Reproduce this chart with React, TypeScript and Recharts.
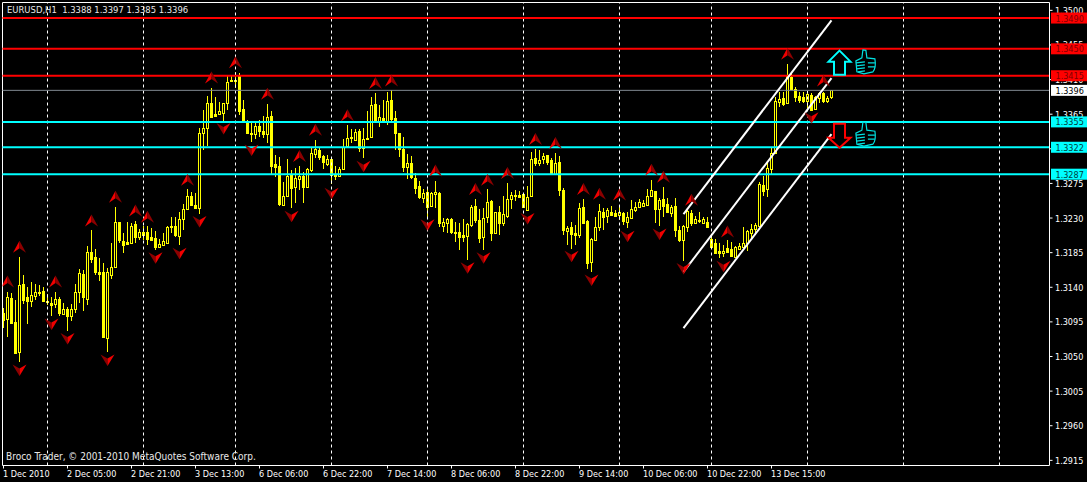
import React from "react";
import { ComposedChart, Bar, Scatter, XAxis, YAxis, ReferenceLine } from "recharts";

const opens = [
  1.3107,1.3099,1.3126,1.3095,1.3056,1.3144,1.3127,1.3122,1.3129,1.3133,
  1.3135,1.3122,1.3120,1.3118,1.3125,1.3105,1.3112,1.3103,1.3112,1.3134,
  1.3157,1.3125,1.3186,1.3179,1.3160,1.3160,1.3074,1.3156,1.3166,1.3225,
  1.3200,1.3199,1.3198,1.3222,1.3205,1.3212,1.3212,1.3205,1.3204,1.3192,
  1.3195,1.3198,1.3218,1.3220,1.3207,1.3229,1.3242,1.3259,1.3247,1.3243,
  1.3341,1.3347,1.3380,1.3365,1.3365,1.3367,1.3380,1.3408,1.3408,1.3415,
  1.3372,1.3356,1.3341,1.3339,1.3350,1.3343,1.3339,1.3363,1.3300,1.3298,
  1.3247,1.3259,1.3286,1.3270,1.3281,1.3285,1.3270,1.3292,1.3313,1.3318,
  1.3311,1.3300,1.3307,1.3286,1.3285,1.3294,1.3324,1.3334,1.3331,1.3343,
  1.3321,1.3333,1.3335,1.3378,1.3355,1.3360,1.3356,1.3383,1.3360,1.3341,
  1.3320,1.3296,1.3302,1.3282,1.3272,1.3256,1.3264,1.3246,1.3261,1.3263,
  1.3220,1.3224,1.3229,1.3212,1.3212,1.3208,1.3207,1.3221,1.3246,1.3227,
  1.3205,1.3231,1.3252,1.3211,1.3238,1.3224,1.3233,1.3255,1.3259,1.3260,
  1.3261,1.3240,1.3259,1.3308,1.3302,1.3307,1.3312,1.3305,1.3287,1.3303,
  1.3266,1.3213,1.3218,1.3211,1.3208,1.3244,1.3226,1.3173,1.3201,1.3218,
  1.3238,1.3233,1.3238,1.3237,1.3234,1.3237,1.3225,1.3230,1.3240,1.3244,
  1.3246,1.3247,1.3259,1.3265,1.3242,1.3255,1.3248,1.3237,1.3246,1.3214,
  1.3201,1.3218,1.3237,1.3224,1.3226,1.3224,1.3225,1.3203,1.3198,1.3187,
  1.3185,1.3191,1.3190,1.3179,1.3190,1.3192,1.3198,1.3211,1.3216,1.3220,
  1.3273,1.3268,1.3294,1.3315,1.3381,1.3386,1.3380,1.3413,1.3398,1.3389,
  1.3387,1.3382,1.3390,1.3372,1.3386,1.3393,1.3382,1.3388,
];
const highs = [
  1.3113,1.3134,1.3133,1.3123,1.3179,1.3156,1.3140,1.3147,1.3144,1.3143,
  1.3140,1.3131,1.3127,1.3134,1.3127,1.3120,1.3114,1.3118,1.3144,1.3164,
  1.3162,1.3194,1.3214,1.3190,1.3178,1.3172,1.3165,1.3198,1.3244,1.3225,
  1.3211,1.3225,1.3224,1.3226,1.3216,1.3220,1.3220,1.3217,1.3213,1.3203,
  1.3211,1.3220,1.3231,1.3231,1.3238,1.3248,1.3268,1.3264,1.3263,1.3347,
  1.3370,1.3389,1.3399,1.3387,1.3381,1.3380,1.3415,1.3416,1.3420,1.3419,
  1.3383,1.3357,1.3354,1.3354,1.3357,1.3363,1.3378,1.3369,1.3312,1.3309,
  1.3277,1.3307,1.3292,1.3295,1.3298,1.3290,1.3295,1.3321,1.3331,1.3322,
  1.3312,1.3312,1.3308,1.3298,1.3296,1.3333,1.3351,1.3346,1.3346,1.3346,
  1.3347,1.3369,1.3387,1.3393,1.3377,1.3383,1.3394,1.3396,1.3369,1.3341,
  1.3335,1.3313,1.3311,1.3289,1.3278,1.3268,1.3269,1.3264,1.3278,1.3264,
  1.3230,1.3230,1.3230,1.3225,1.3224,1.3229,1.3224,1.3247,1.3255,1.3242,
  1.3243,1.3268,1.3253,1.3238,1.3246,1.3259,1.3276,1.3264,1.3266,1.3265,
  1.3263,1.3272,1.3316,1.3320,1.3318,1.3315,1.3312,1.3308,1.3315,1.3311,
  1.3269,1.3220,1.3225,1.3221,1.3250,1.3255,1.3227,1.3204,1.3231,1.3248,
  1.3243,1.3243,1.3246,1.3240,1.3247,1.3238,1.3238,1.3253,1.3251,1.3255,
  1.3253,1.3268,1.3279,1.3265,1.3256,1.3270,1.3256,1.3247,1.3256,1.3220,
  1.3221,1.3242,1.3240,1.3233,1.3238,1.3231,1.3231,1.3207,1.3203,1.3198,
  1.3195,1.3201,1.3199,1.3194,1.3198,1.3218,1.3214,1.3222,1.3224,1.3277,
  1.3285,1.3302,1.3321,1.3387,1.3394,1.3394,1.3430,1.3419,1.3400,1.3394,
  1.3394,1.3392,1.3393,1.3389,1.3394,1.3394,1.3389,1.3397,
];
const lows = [
  1.3087,1.3075,1.3092,1.3055,1.3043,1.3118,1.3092,1.3114,1.3123,1.3129,
  1.3122,1.3117,1.3103,1.3113,1.3103,1.3105,1.3083,1.3096,1.3107,1.3120,
  1.3109,1.3117,1.3172,1.3156,1.3148,1.3075,1.3056,1.3151,1.3166,1.3198,
  1.3185,1.3195,1.3198,1.3198,1.3201,1.3201,1.3195,1.3200,1.3188,1.3191,
  1.3194,1.3198,1.3211,1.3205,1.3195,1.3214,1.3240,1.3246,1.3242,1.3235,
  1.3318,1.3324,1.3361,1.3361,1.3365,1.3356,1.3370,1.3408,1.3399,1.3364,
  1.3354,1.3341,1.3329,1.3333,1.3335,1.3334,1.3328,1.3286,1.3283,1.3246,
  1.3246,1.3257,1.3243,1.3250,1.3266,1.3250,1.3269,1.3290,1.3308,1.3305,
  1.3294,1.3298,1.3274,1.3279,1.3283,1.3292,1.3322,1.3328,1.3330,1.3316,
  1.3308,1.3331,1.3334,1.3354,1.3348,1.3355,1.3351,1.3356,1.3318,1.3309,
  1.3290,1.3281,1.3281,1.3261,1.3255,1.3250,1.3231,1.3244,1.3243,1.3218,
  1.3212,1.3211,1.3209,1.3199,1.3188,1.3199,1.3175,1.3218,1.3224,1.3198,
  1.3188,1.3224,1.3200,1.3209,1.3208,1.3220,1.3230,1.3242,1.3252,1.3256,
  1.3243,1.3239,1.3257,1.3298,1.3298,1.3300,1.3299,1.3287,1.3287,1.3259,
  1.3208,1.3195,1.3190,1.3195,1.3204,1.3222,1.3164,1.3160,1.3200,1.3213,
  1.3214,1.3224,1.3234,1.3231,1.3227,1.3221,1.3217,1.3230,1.3238,1.3244,
  1.3244,1.3246,1.3259,1.3224,1.3220,1.3231,1.3237,1.3231,1.3205,1.3199,
  1.3174,1.3212,1.3220,1.3222,1.3224,1.3222,1.3217,1.3192,1.3185,1.3178,
  1.3179,1.3185,1.3179,1.3179,1.3188,1.3192,1.3187,1.3204,1.3208,1.3218,
  1.3259,1.3257,1.3287,1.3313,1.3374,1.3376,1.3380,1.3396,1.3381,1.3380,
  1.3380,1.3373,1.3369,1.3372,1.3380,1.3380,1.3380,1.3385,
];
const closes = [
  1.3097,1.3127,1.3094,1.3055,1.3143,1.3123,1.3122,1.3130,1.3134,1.3134,
  1.3122,1.3121,1.3117,1.3125,1.3107,1.3112,1.3103,1.3112,1.3134,1.3159,
  1.3127,1.3186,1.3177,1.3160,1.3157,1.3075,1.3160,1.3166,1.3225,1.3201,
  1.3195,1.3196,1.3220,1.3205,1.3212,1.3208,1.3203,1.3201,1.3192,1.3196,
  1.3200,1.3218,1.3220,1.3208,1.3229,1.3242,1.3259,1.3247,1.3243,1.3341,
  1.3347,1.3380,1.3361,1.3363,1.3369,1.3380,1.3407,1.3409,1.3409,1.3369,
  1.3356,1.3341,1.3339,1.3350,1.3343,1.3339,1.3361,1.3298,1.3296,1.3248,
  1.3259,1.3285,1.3269,1.3282,1.3285,1.3270,1.3294,1.3315,1.3320,1.3309,
  1.3303,1.3307,1.3286,1.3285,1.3294,1.3322,1.3334,1.3335,1.3342,1.3321,
  1.3333,1.3334,1.3377,1.3356,1.3361,1.3356,1.3382,1.3359,1.3341,1.3320,
  1.3296,1.3302,1.3283,1.3269,1.3257,1.3263,1.3244,1.3263,1.3264,1.3224,
  1.3225,1.3229,1.3212,1.3211,1.3205,1.3205,1.3222,1.3244,1.3227,1.3204,
  1.3230,1.3251,1.3211,1.3238,1.3224,1.3235,1.3255,1.3260,1.3260,1.3257,
  1.3244,1.3257,1.3307,1.3302,1.3305,1.3311,1.3303,1.3287,1.3302,1.3266,
  1.3214,1.3217,1.3209,1.3208,1.3243,1.3224,1.3172,1.3203,1.3218,1.3239,
  1.3231,1.3240,1.3234,1.3233,1.3238,1.3226,1.3231,1.3242,1.3244,1.3251,
  1.3250,1.3259,1.3266,1.3242,1.3253,1.3246,1.3238,1.3244,1.3214,1.3201,
  1.3220,1.3239,1.3224,1.3229,1.3227,1.3229,1.3218,1.3192,1.3185,1.3185,
  1.3187,1.3186,1.3181,1.3192,1.3194,1.3198,1.3213,1.3216,1.3221,1.3274,
  1.3265,1.3295,1.3315,1.3382,1.3385,1.3378,1.3415,1.3398,1.3387,1.3383,
  1.3382,1.3391,1.3370,1.3387,1.3393,1.3382,1.3386,1.3396,
];

const upFractalBars = [1,4,13,22,28,33,36,46,52,58,66,74,78,86,93,97,108,118,121,126,133,138,145,149,154,162,165,172,181,196,205];
const upFractalPrices = [1.3147,1.3192,1.3147,1.3226,1.3257,1.3239,1.3231,1.3279,1.3412,1.3432,1.3391,1.3310,1.3344,1.3363,1.3405,1.3408,1.3291,1.3267,1.3279,1.3288,1.3332,1.3327,1.3267,1.3261,1.3260,1.3292,1.3283,1.3253,1.3212,1.3443,1.3408];
const downFractalBars = [4,12,16,26,38,44,49,55,62,72,82,90,106,116,120,131,142,147,156,164,170,180,202];
const downFractalPrices = [1.3033,1.3093,1.3074,1.3046,1.3179,1.3185,1.3226,1.3347,1.3319,1.3233,1.3263,1.3298,1.3222,1.3166,1.3179,1.3230,1.3181,1.3150,1.3207,1.3210,1.3165,1.3168,1.3361];

const resistanceLevels = [1.3490, 1.3450, 1.3415];
const supportLevels = [1.3355, 1.3322, 1.3287];
const lastPrice = 1.3396;
const channelBars = [170, 207];
const channelUpper = [1.3235, 1.3487];
const channelMiddle = [1.3160, 1.3412];
const channelLower = [1.3087, 1.3339];
const daySeparatorBars = [11,35,58,82,106,130,154,177,201,225,249];
const priceTicks = [1.35,1.3455,1.341,1.3365,1.332,1.3275,1.323,1.3185,1.314,1.3095,1.305,1.3005,1.296,1.2915];
const timeTickBars = [0,16,32,48,64,80,96,112,128,144,160,176,192];
const timeTickLabels = ["1 Dec 2010","2 Dec 05:00","2 Dec 21:00","3 Dec 13:00","6 Dec 06:00","6 Dec 22:00","7 Dec 14:00","8 Dec 06:00","8 Dec 22:00","9 Dec 14:00","10 Dec 06:00","10 Dec 22:00","13 Dec 15:00"];
const titleText = "EURUSD,H1  1.3388 1.3397 1.3385 1.3396";
const footerText = "Broco Trader, © 2001-2010 MetaQuotes Software Corp.";
const buySignal = [{ i: 209, price: 1.3432 }];
const sellSignal = [{ i: 209, price: 1.3337 }];
const thumbSignals = [{ i: 215.6, price: 1.3433 }, { i: 215.6, price: 1.3339 }];

const candles = opens.map((open, i) => ({ i, open, high: highs[i], low: lows[i], close: closes[i] }));
const upFractals = upFractalBars.map((i, k) => ({ i, price: upFractalPrices[k] }));
const downFractals = downFractalBars.map((i, k) => ({ i, price: downFractalPrices[k] }));
const taggedLevels = [...resistanceLevels, lastPrice, ...supportLevels];
const priceDomain = [1.29083, 1.35102];

const FONT = '"DejaVu Sans Condensed", "DejaVu Sans", sans-serif';
const FONT_SIZE = 9;
const YELLOW = "#ffff00";

function Candle(props: any) {
  const { x, y, width, height, payload } = props;
  if (!payload) return null;
  const { open, close, high, low } = payload;
  const cx = Math.floor(x + width / 2) + 0.5;
  const perUnit = height / (high - low);
  const top = Math.round(y + (high - Math.max(open, close)) * perUnit) + 0.5;
  const bottom = Math.round(y + (high - Math.min(open, close)) * perUnit) + 0.5;
  const up = close >= open;
  return (
    <g shapeRendering="crispEdges">
      <line x1={cx} x2={cx} y1={y} y2={y + height} stroke={YELLOW} strokeWidth={1} />
      <rect x={cx - 1} y={top} width={2} height={Math.max(bottom - top, 0)} fill={up ? "#000" : YELLOW} stroke={YELLOW} strokeWidth={1} />
    </g>
  );
}

function UpFractal(props: any) {
  const { cx, cy } = props;
  return (
    <g transform={`translate(${cx},${cy})`}>
      <path d="M0,-6.5 L-6.5,5.5 L0,1 Z" fill="#f00000" />
      <path d="M0,-6.5 L6.5,5.5 L0,1 Z" fill="#8c0000" />
    </g>
  );
}

function DownFractal(props: any) {
  const { cx, cy } = props;
  return (
    <g transform={`translate(${cx},${cy})`}>
      <path d="M0,6.5 L-7,-5 L0,-1 Z" fill="#8c0000" />
      <path d="M0,6.5 L7,-5 L0,-1 Z" fill="#f00000" />
    </g>
  );
}

function BuyArrow(props: any) {
  const { cx, cy } = props;
  return (
    <path transform={`translate(${cx},${cy})`} d="M0,-12 L11,-1 L5.5,-1 L5.5,12 L-5.5,12 L-5.5,-1 L-11,-1 Z" fill="#000" stroke="#00ffff" strokeWidth={2} />
  );
}

function SellArrow(props: any) {
  const { cx, cy } = props;
  return (
    <path transform={`translate(${cx},${cy})`} d="M0,12 L11,2 L5.5,2 L5.5,-12 L-5.5,-12 L-5.5,2 L-11,2 Z" fill="#000" stroke="#ff0000" strokeWidth={2} />
  );
}

function Thumb(props: any) {
  const { cx, cy } = props;
  return (
    <g transform={`translate(${cx},${cy})`} fill="none" stroke="#00e0e0" strokeWidth={1.2}>
      <path d="M-3,-12 L0,-11.5 L1,-4 L9,-3 Q10.5,6 7,10 L-2,12 L-9,10 L-10,-1 L-4,-4 Z" />
      <path d="M-10,1 L-1,0 M-9.5,4 L-1,3 M-9.5,7 L-1,6 M-8,10 L-1,9 M9,1 L2,1 M9,5 L2,5" />
    </g>
  );
}

function PriceTagTick(props: any) {
  const { y, payload } = props;
  const value = payload.value;
  const bg = value === lastPrice ? "#fff" : value > lastPrice ? "#ff0000" : "#00ffff";
  const fg = value === lastPrice ? "#000" : value > lastPrice ? "#800000" : "#003c3c";
  return (
    <g>
      <rect x={1051} y={y - 5.5} width={36} height={11} fill={bg} />
      <text x={1055.5} y={y + 3.5} fontFamily={FONT} fontSize={FONT_SIZE} fill={fg}>{value.toFixed(4)}</text>
    </g>
  );
}

function TimeTick(props: any) {
  const { x, y, index } = props;
  return (
    <text x={x - 0.5} y={y + 6.5} fontFamily={FONT} fontSize={FONT_SIZE} fill="#fff">{timeTickLabels[index]}</text>
  );
}

function PriceTick(props: any) {
  const { x, y, payload } = props;
  return (
    <text x={x + 0.5} y={y + 3.5} fontFamily={FONT} fontSize={FONT_SIZE} fill="#fff">{payload.value.toFixed(4)}</text>
  );
}

function segment(values: number[]) {
  return [{ x: channelBars[0], y: values[0] }, { x: channelBars[1], y: values[1] }];
}

export default function App() {
  return (
    <div style={{ position: "absolute", left: 0, top: 0, width: 1087, height: 482, background: "#000", overflow: "hidden" }}>
      <ComposedChart
        width={1087}
        height={482}
        data={candles}
        margin={{ top: 2.5, right: 0, bottom: 0, left: 2.5 }}
        barSize={3}
      >
        <XAxis
          dataKey="i"
          type="number"
          domain={[-0.25, 261.5]}
          ticks={timeTickBars}
          interval={0}
          height={16.5}
          stroke="#fff"
          tickLine={{ stroke: "#fff" }}
          tickSize={3}
          tick={<TimeTick />}
          allowDataOverflow
        />
        <YAxis
          orientation="right"
          type="number"
          domain={priceDomain}
          ticks={priceTicks}
          interval={0}
          width={37}
          stroke="#fff"
          tickLine={{ stroke: "#fff" }}
          tickSize={3}
          tick={<PriceTick />}
          allowDataOverflow
        />
        <YAxis
          yAxisId="tags"
          orientation="right"
          type="number"
          domain={priceDomain}
          ticks={taggedLevels}
          interval={0}
          width={0.5}
          axisLine={false}
          tickLine={false}
          tick={<PriceTagTick />}
          allowDataOverflow
        />
        <ReferenceLine x={-0.25} stroke="#fff" strokeWidth={1} />
        <ReferenceLine y={priceDomain[1]} stroke="#fff" strokeWidth={1} />
        {daySeparatorBars.map((b) => (
          <ReferenceLine key={b} x={b} stroke="#fff" strokeWidth={1} strokeDasharray="3 3" />
        ))}
        <ReferenceLine y={lastPrice} stroke="#808890" strokeWidth={1} />
        {resistanceLevels.map((v) => (
          <ReferenceLine key={v} y={v} stroke="#ff0000" strokeWidth={2} />
        ))}
        {supportLevels.map((v) => (
          <ReferenceLine key={v} y={v} stroke="#00ffff" strokeWidth={2} />
        ))}
        <Bar dataKey={(d: any) => [d.low, d.high]} shape={<Candle />} isAnimationActive={false} />
        <Scatter data={upFractals} dataKey="price" shape={<UpFractal />} isAnimationActive={false} />
        <Scatter data={downFractals} dataKey="price" shape={<DownFractal />} isAnimationActive={false} />
        <Scatter data={buySignal} dataKey="price" shape={<BuyArrow />} isAnimationActive={false} />
        <Scatter data={sellSignal} dataKey="price" shape={<SellArrow />} isAnimationActive={false} />
        <Scatter data={thumbSignals} dataKey="price" shape={<Thumb />} isAnimationActive={false} />
        <ReferenceLine segment={segment(channelUpper)} stroke="#fff" strokeWidth={2} />
        <ReferenceLine segment={segment(channelMiddle)} stroke="#fff" strokeWidth={2} />
        <ReferenceLine segment={segment(channelLower)} stroke="#fff" strokeWidth={2} />
      </ComposedChart>
      <div style={{ position: "absolute", left: 7, top: 4, fontFamily: FONT, fontSize: 9.4, lineHeight: "12px", color: "#e8e8e8", whiteSpace: "pre" }}>{titleText}</div>
      <div style={{ position: "absolute", left: 6, top: 450.5, fontFamily: FONT, fontSize: 10, lineHeight: "12px", color: "#e8e8e8", whiteSpace: "pre" }}>{footerText}</div>
    </div>
  );
}
